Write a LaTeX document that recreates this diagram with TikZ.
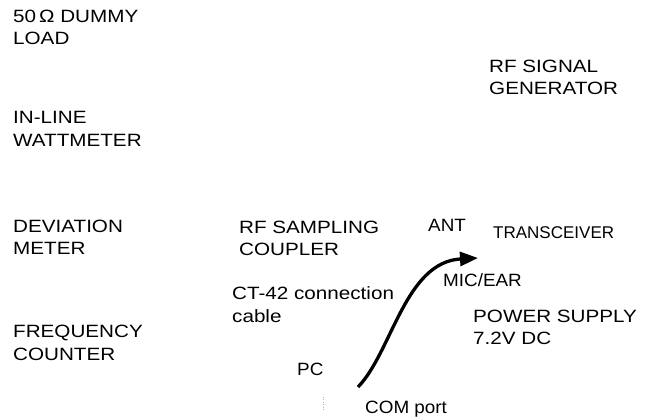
\documentclass[tikz,border=0pt]{standalone}
\usepackage{fontspec}
\usepackage{tikz}
\usetikzlibrary{arrows.meta}
\setmainfont{Liberation Sans}[FakeStretch=1.16]
\newfontfamily\midfont{Liberation Sans}[FakeStretch=1.06]
\newfontfamily\plainfont{Liberation Sans}
\newcommand\lblsize{\fontsize{17.8}{22.5}\selectfont}

\begin{document}
\begin{tikzpicture}[
  x=1pt,y=-1pt,
  lbl/.style={anchor=base west,inner sep=0pt,align=left,font=\lblsize},
  port/.style={lbl,font=\lblsize\midfont},
  cable/.style={-{Triangle[length=18pt,width=14pt]},line width=3.3pt}
]
\useasboundingbox (0,0) rectangle (647,419);
% instruments on the left (base = last line)
\node[lbl] (load) at (13,45) {50\,Ω DUMMY\\LOAD};
\node[lbl] (watt) at (13,146.5) {IN-LINE\\WATTMETER};
\node[lbl] (dev) at (13,255) {DEVIATION\\METER};
\node[lbl] (freq) at (13,360) {FREQUENCY\\COUNTER};
% right side
\node[lbl] (siggen) at (489,95) {RF SIGNAL\\GENERATOR};
\node[lbl] (coupler) at (239,256) {RF SAMPLING\\COUPLER};
\node[port] (ant) at (428,232) {ANT};
\node[lbl,font=\fontsize{17}{22}\plainfont] (trx) at (493,239) {TRANSCEIVER};
\node[port] (mic) at (443,287) {MIC/EAR};
\node[lbl] (cable) at (232,322) {CT-42 connection\\cable};
\node[lbl] (psu) at (473,344.5) {POWER SUPPLY\\7.2V DC};
\node[port] (pc) at (297,375) {PC};
\node[port] (com) at (365,413) {COM port};
% the cable
\coordinate (comend) at (358,387);
\coordinate (micend) at (478,258);
\draw[cable] (comend) .. controls (392,352) and (405,262) .. (micend);
\draw[gray!60,dotted] (323,397) -- (323,411);
\end{tikzpicture}
\end{document}
